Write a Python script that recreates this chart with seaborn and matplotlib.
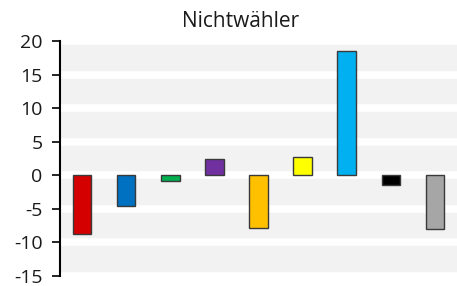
import matplotlib
matplotlib.use("Agg")
import matplotlib.pyplot as plt
import seaborn as sns
import pandas as pd

categories = ["SPD", "CDU", "Grüne", "Linke", "AfD", "FDP", "Piraten", "NPD", "Sonstige"]
values = [-8.7, -4.5, -0.9, 2.5, -7.8, 2.7, 18.5, -1.5, -8.0]
colors = ["#d40000", "#0070c0", "#00b050", "#7030a0", "#ffc000", "#ffff00", "#00b0f0", "#000000", "#a6a6a6"]
yticks = [-15, -10, -5, 0, 5, 10, 15, 20]
title = "Nichtwähler"

sns.set_theme(style="white")
plt.rcParams['font.family'] = ['Open Sans', 'DejaVu Sans']

df = pd.DataFrame({"cat": categories, "val": values})

fig = plt.figure(figsize=(4.57, 2.86), dpi=100)
ax = fig.add_axes([60/457, 1 - 276/286, 397/457, 235/286])
ax.set_facecolor("#f2f2f2")

sns.barplot(data=df, x="cat", y="val", hue="cat", palette=colors, legend=False, saturation=1,
            width=0.42, edgecolor="#3a3a3a", linewidth=1.0, ax=ax, zorder=3)

ax.set_ylim(-15, 20)
ax.set_yticks(yticks, labels=[str(t) for t in yticks], fontsize=14, color="#1a1a1a")
ax.set_xlim(-0.5, len(categories) - 0.5)
ax.yaxis.grid(True, color="white", linewidth=5.5, zorder=1)
ax.xaxis.grid(False)
ax.set_axisbelow(True)

for s in ["top", "right", "bottom"]:
    ax.spines[s].set_visible(False)
ax.spines["left"].set_color("black")
ax.spines["left"].set_linewidth(1.5)
ax.spines["left"].set_zorder(5)

ax.tick_params(axis="y", left=True, length=5.5, width=1.2, color="black", pad=7)
ax.set_xticks([])
ax.set_xlabel("")
ax.set_ylabel("")
fig.text(241/457, 1 - 27/286, title, fontsize=15, color="#1a1a1a", ha="center", va="baseline")

fig.savefig("out.png", dpi=100)
